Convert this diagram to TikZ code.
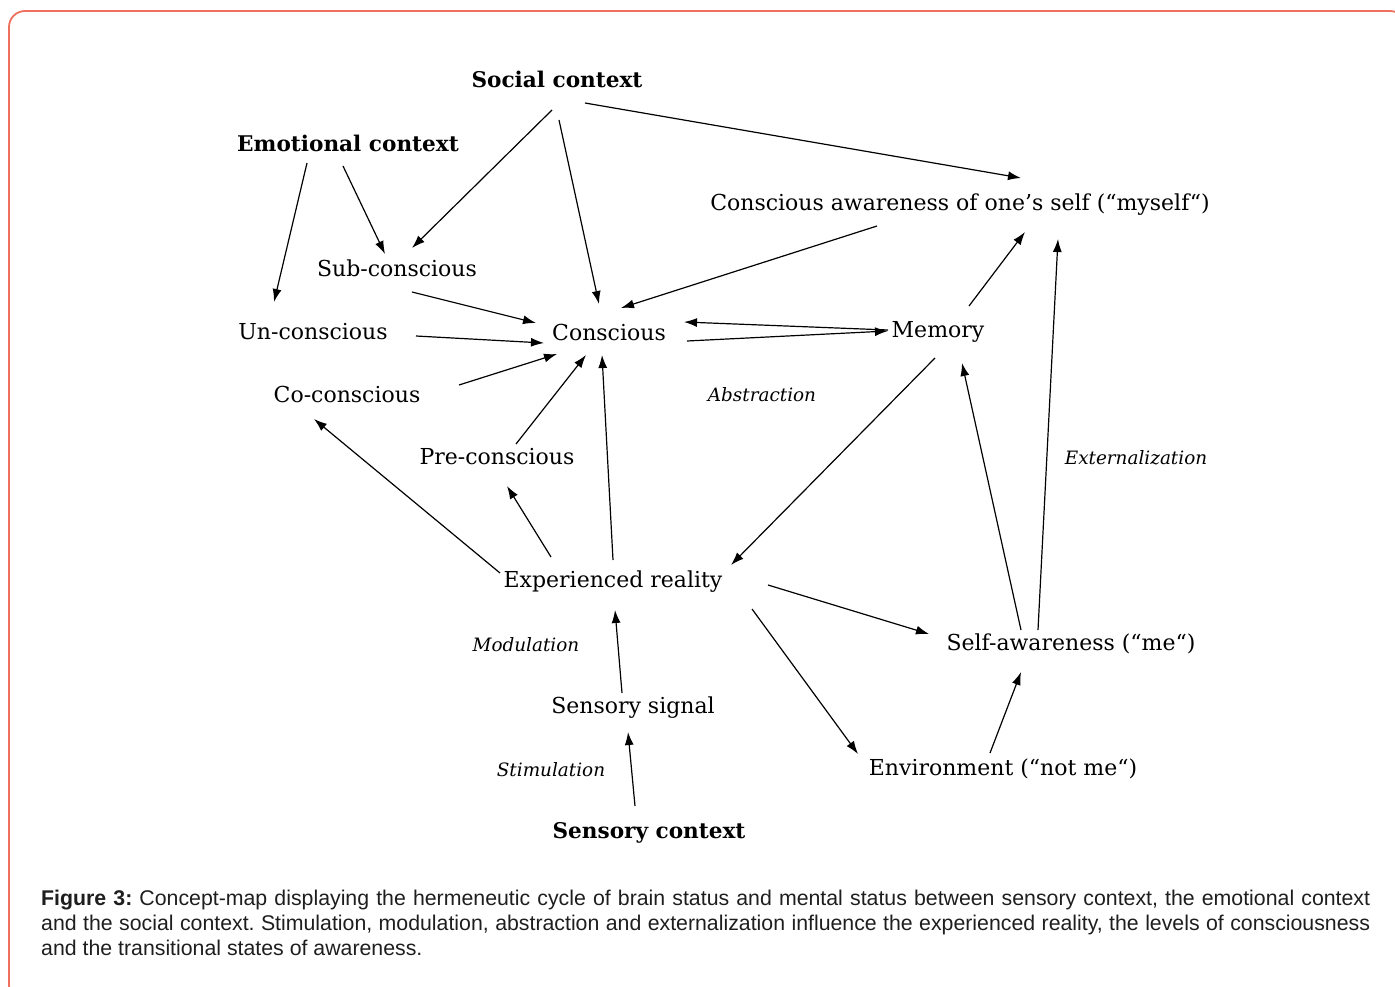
\documentclass[tikz,border=0pt]{standalone}
\usepackage{fontspec}
\setmainfont{DejaVu Serif}
\newfontfamily\capfont{Liberation Sans}
\usetikzlibrary{arrows.meta,calc}
\begin{document}
\begin{tikzpicture}[x=1pt,y=-1pt,
  lbl/.style={inner sep=0pt,font=\fontsize{22}{26}\selectfont},
  bld/.style={inner sep=0pt,font=\fontsize{21.6}{26}\selectfont\bfseries},
  itl/.style={inner sep=0pt,font=\fontsize{18.4}{22}\selectfont\itshape},
  arr/.style={line width=1.2pt,-{Latex[length=13pt,width=9pt]}},
  border/.style={draw={rgb,255:red,240;green,112;blue,95},line width=1.8pt,rounded corners=16pt}]
\useasboundingbox (0,0) rectangle (1395,987);
\clip (0,0) rectangle (1395,987);
\draw[border] (9,11) rectangle (1406,1001);
% nodes
\node[bld] (soc) at (557,79) {Social context};
\node[bld] (emo) at (348,143) {Emotional context};
\node[lbl] (aware) at (960,205) {Conscious awareness of one’s self (“myself“)};
\node[lbl] (sub) at (397,268) {Sub-conscious};
\node[lbl] (un) at (313,332) {Un-conscious};
\node[lbl] (con) at (609,332) {Conscious};
\node[lbl] (mem) at (938,332) {Memory};
\node[lbl] (co) at (347,394) {Co-conscious};
\node[itl] (abs) at (762,395) {Abstraction};
\node[lbl] (pre) at (497,457) {Pre-conscious};
\node[itl] (ext) at (1136,458) {Externalization};
\node[lbl] (exp) at (613,582) {Experienced reality};
\node[lbl] (self) at (1071,644) {Self-awareness (“me“)};
\node[itl] (mod) at (526,645) {Modulation};
\node[lbl] (sig) at (633,708) {Sensory signal};
\node[itl] (stim) at (551,770) {Stimulation};
\node[lbl] (env) at (1003,769) {Environment (“not me“)};
\node[bld] (sctx) at (649,833) {Sensory context};
% connectors
\draw[arr] ($(soc)+(28,24)$) -- ($(aware)+(61,-27)$);
\draw[arr] ($(soc)+(-5,31)$) -- ($(sub)+(15,-20)$);
\draw[arr] ($(soc)+(2,41)$) -- ($(con)+(-10,-28)$);
\draw[arr] ($(emo)+(-41,20)$) -- ($(un)+(-39,-30)$);
\draw[arr] ($(emo)+(-5,23)$) -- ($(sub)+(-12,-14)$);
\draw[arr] ($(aware)+(-83,21)$) -- ($(con)+(12,-24)$);
\draw[arr] ($(sub)+(15,24)$) -- ($(con)+(-73,-9)$);
\draw[arr] ($(un)+(103,4)$) -- ($(con)+(-65,11)$);
\draw[arr] ($(co)+(112,-9)$) -- ($(con)+(-52,22)$);
\draw[arr] ($(pre)+(19,-13)$) -- ($(con)+(-23,23)$);
\draw[arr] ($(exp)+(0,-22)$) -- ($(con)+(-7,23)$);
\draw[arr] ($(con)+(78,9)$) -- ($(mem)+(-50,-1)$);
\draw[arr] ($(mem)+(-50,-2)$) -- ($(con)+(75,-10)$);
\draw[arr] ($(mem)+(31,-26)$) -- ($(aware)+(65,27)$);
\draw[arr] ($(mem)+(-3,26)$) -- ($(exp)+(118,-17)$);
\draw[arr] ($(exp)+(-113,-9)$) -- ($(co)+(-33,25)$);
\draw[arr] ($(exp)+(-62,-25)$) -- ($(pre)+(10,29)$);
\draw[arr] ($(exp)+(155,3)$) -- ($(self)+(-142,-10)$);
\draw[arr] ($(exp)+(139,27)$) -- ($(env)+(-145,-15)$);
\draw[arr] ($(self)+(-50,-14)$) -- ($(mem)+(24,31)$);
\draw[arr] ($(self)+(-33,-14)$) -- ($(aware)+(98,34)$);
\draw[arr] ($(env)+(-13,-16)$) -- ($(self)+(-50,28)$);
\draw[arr] ($(sig)+(-11,-15)$) -- ($(exp)+(2,28)$);
\draw[arr] ($(sctx)+(-14,-27)$) -- ($(sig)+(-5,24)$);
% caption
\node[anchor=north west,inner sep=0pt,text width=1329pt,align=justify,
  font=\capfont\fontsize{21.3}{25}\selectfont\frenchspacing,text={rgb,255:red,30;green,30;blue,30}] (cap) at (41,890)
  {\textbf{Figure 3:} Concept-map displaying the hermeneutic cycle of brain status and mental status between sensory context, the emotional context\linebreak
  and the social context. Stimulation, modulation, abstraction and externalization influence the experienced reality, the levels of consciousness\linebreak
  and the transitional states of awareness.};
\end{tikzpicture}
\end{document}
